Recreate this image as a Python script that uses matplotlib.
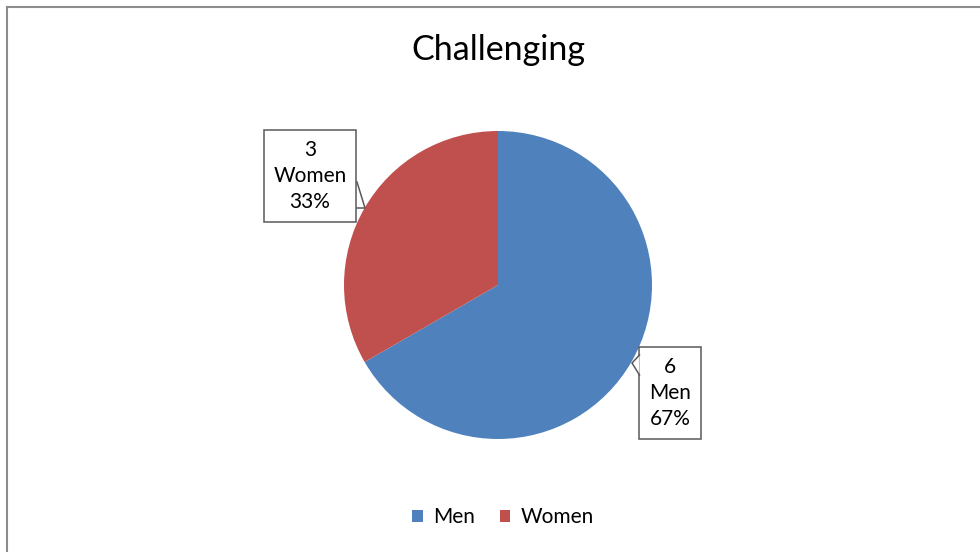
import matplotlib
matplotlib.use('Agg')
import matplotlib.pyplot as plt
from matplotlib.patches import Polygon
from matplotlib.lines import Line2D

# Responses for "Challenging".
labels = ['Men', 'Women']
counts = [6, 3]
colors = ['#4F81BD', '#C0504D']

plt.rcParams['font.family'] = ['Lato', 'DejaVu Sans']

W, H = 980, 552
fig = plt.figure(figsize=(W / 100, H / 100), dpi=100)
ax = fig.add_axes([0, 0, 1, 1])

# Chart area frame (runs off the right and bottom edges).
fig.add_artist(Line2D([6.5 / W, 1], [1 - 6.5 / H, 1 - 6.5 / H], color='#8c8c8c', lw=1.5))
fig.add_artist(Line2D([6.5 / W, 6.5 / W], [0, 1 - 6.5 / H], color='#8c8c8c', lw=1.5))

cx, cy, r = 498, H - 285, 154
wedges, _ = ax.pie(counts, colors=colors, startangle=90, counterclock=False,
                   center=(cx, cy), radius=r, frame=True)
ax.set_xlim(0, W)
ax.set_ylim(0, H)
ax.set_aspect('equal')
ax.axis('off')

ax.text(498, H - 50, 'Challenging', ha='center', va='center', fontsize=24.5)

total = sum(counts)
# box centre, pointer tip, two points on the box edge where the pointer attaches
callouts = [
    ((670, H - 393), (632, H - 363), (639.5, H - 355), (639.5, H - 375)),
    ((310, H - 176), (365, H - 208), (357, H - 182), (357, H - 208)),
]
for lab, n, (pos, tip, a, b) in zip(labels, counts, callouts):
    txt = f'{n}\n{lab}\n{round(100 * n / total)}%'
    ax.text(pos[0], pos[1], txt, ha='center', va='center', fontsize=15,
            linespacing=1.4, zorder=3,
            bbox=dict(boxstyle='square,pad=0.47', fc='white', ec='#595959', lw=1.1))
    ax.add_patch(Polygon([tip, a, b], closed=True, fc='white', ec='none', zorder=4))
    ax.plot([a[0], tip[0], b[0]], [a[1], tip[1], b[1]], color='#595959', lw=1.1,
            zorder=5, solid_joinstyle='miter')

handles = [plt.Rectangle((0, 0), 1, 1, fc=c) for c in colors]
fig.legend(handles, labels, loc='center', bbox_to_anchor=(503 / W, 1 - 517 / H),
           ncol=2, frameon=False, fontsize=15, handlelength=0.5, handleheight=0.5,
           handletextpad=0.5, columnspacing=1.2)

fig.savefig('out.png', dpi=100)
